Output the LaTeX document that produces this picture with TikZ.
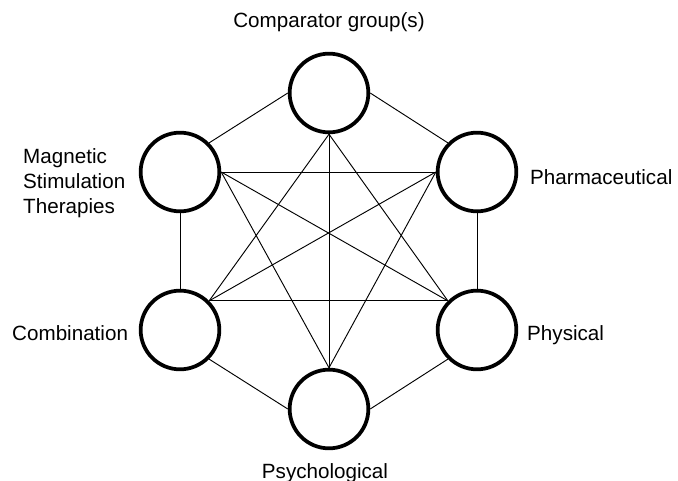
\documentclass[tikz,border=0pt]{standalone}
\usepackage{fontspec}
\setmainfont{Liberation Sans}

\begin{document}
\begin{tikzpicture} [x=0.03cm, y=-0.03cm]
    \tikzstyle{arm} = [circle,draw,line width=3.2pt,minimum size=2.36cm,inner sep=0pt]
    \tikzstyle{link} = [draw,line width=0.8pt]
    \tikzstyle{caption} = [inner sep=0pt,font=\fontsize{17.6}{21.3}\selectfont]

      \useasboundingbox (0,0) rectangle (678,481);

      \node[arm] (cmp) at (329,93)  {};
      \node[arm] (mag) at (180,172) {};
      \node[arm] (pha) at (477,172) {};
      \node[arm] (com) at (180,330) {};
      \node[arm] (phy) at (477,330) {};
      \node[arm] (psy) at (329,409) {};

      \draw[link] (cmp.west) -- (mag.north east);
      \draw[link] (cmp.east) -- (pha.north west);
      \draw[link] (cmp.south) -- (com.north east);
      \draw[link] (cmp.south) -- (phy.north west);
      \draw[link] (cmp.south) -- (psy.north);
      \draw[link] (mag.east) -- (pha.west);
      \draw[link] (mag.east) -- (phy.north west);
      \draw[link] (mag.east) -- (psy.north);
      \draw[link] (mag.south) -- (com.north);
      \draw[link] (pha.west) -- (com.north east);
      \draw[link] (pha.west) -- (psy.north);
      \draw[link] (pha.south) -- (phy.north);
      \draw[link] (com.north east) -- (phy.north west);
      \draw[link] (com.south east) -- (psy.west);
      \draw[link] (phy.south west) -- (psy.east);

      \node[caption,anchor=base] (cmp label) at (329,28) {Comparator group(s)};
      \node[caption,anchor=base west,align=left] (mag label) at (23,213) {Magnetic\\Stimulation\\Therapies};
      \node[caption,anchor=base west] (pha label) at (530,184) {Pharmaceutical};
      \node[caption,anchor=base west] (com label) at (12,340) {Combination};
      \node[caption,anchor=base west] (phy label) at (527,340) {Physical};
      \node[caption,anchor=base] (psy label) at (325,478) {Psychological};
    \end{tikzpicture}
\end{document}
